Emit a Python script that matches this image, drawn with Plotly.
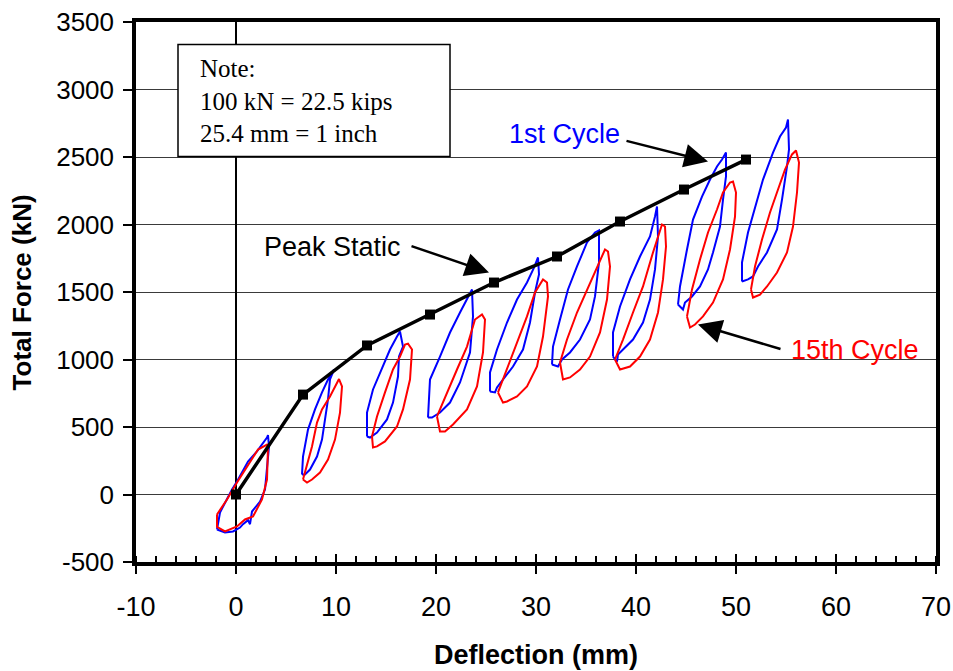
import plotly.graph_objects as go

# Peak static load-deflection envelope
static_defl = [0, 6.7, 13.1, 19.4, 25.8, 32.1, 38.4, 44.8, 51.0]
static_force = [0, 740, 1104, 1333, 1570, 1763, 2022, 2259, 2481]

# First-cycle hysteresis loops (deflection mm, force kN), one list per loop
cycle1_defl = [
    [-1.9, -1.6, -0.4, 0.1, 1.2, 2.1, 3.1, 3.2, 3.3, 2.9, 2.4, 1.6, 1.4, 1.2, 0.7, 0.4, -0.3, -1.1, -1.9],
    [6.6, 6.7, 7.2, 7.9, 8.6, 9.2, 9.8, 9.4, 9.2, 8.9, 8.6, 8.1, 7.4, 6.9, 6.6],
    [13.1, 13.1, 13.7, 14.7, 15.4, 16.1, 16.4, 16.7, 16.3, 16.2, 15.7, 15.1, 14.1, 13.4, 13.1],
    [19.2, 19.4, 20.4, 21.4, 22.4, 23.1, 23.6, 23.7, 23.4, 22.4, 21.4, 20.4, 19.6, 19.2],
    [25.4, 25.4, 26.1, 27.1, 28.1, 29.1, 29.8, 30.2, 30.3, 29.9, 29.4, 28.7, 27.7, 26.7, 26.1, 25.9, 25.4],
    [31.6, 31.7, 32.4, 33.2, 34.1, 35.1, 35.9, 36.3, 36.3, 35.9, 35.4, 34.4, 33.4, 32.6, 32.2, 31.6],
    [37.7, 37.7, 38.4, 39.4, 40.4, 41.4, 41.9, 42.1, 42.2, 41.9, 41.4, 40.7, 39.7, 38.7, 38.2, 38.1, 37.7],
    [44.2, 44.4, 45.1, 45.7, 46.6, 47.4, 48.1, 48.6, 49.0, 49.0, 48.7, 48.4, 47.7, 47.2, 46.4, 45.6, 44.9, 44.7, 44.2],
    [50.6, 50.6, 51.2, 51.9, 52.7, 53.7, 54.4, 55.0, 55.2, 55.3, 55.1, 54.6, 54.1, 53.1, 52.2, 51.7, 51.2, 50.6],
]
cycle1_force = [
    [-259, -133, 37, 96, 244, 319, 422, 440, 356, 37, -52, -126, -220, -190, -220, -245, -274, -281, -259],
    [148, 281, 481, 630, 756, 852, 925, 852, 704, 556, 407, 281, 185, 148, 148],
    [430, 607, 778, 948, 1074, 1170, 1207, 1096, 1022, 874, 681, 556, 459, 422, 430],
    [570, 852, 1022, 1200, 1348, 1444, 1519, 1319, 1052, 830, 681, 607, 570, 570],
    [763, 904, 1074, 1274, 1444, 1570, 1680, 1756, 1630, 1496, 1274, 1074, 948, 852, 793, 756, 763],
    [963, 1096, 1296, 1519, 1689, 1867, 1941, 1956, 1719, 1467, 1296, 1148, 1052, 1000, 948, 963],
    [1022, 1200, 1393, 1593, 1763, 1911, 2059, 2133, 1911, 1667, 1444, 1274, 1148, 1074, 1037, 985, 1022],
    [1407, 1541, 1815, 2037, 2207, 2333, 2430, 2481, 2533, 2356, 2185, 1985, 1793, 1667, 1541, 1467, 1422, 1370, 1407],
    [1578, 1719, 1941, 2133, 2333, 2533, 2652, 2718, 2778, 2556, 2430, 2185, 1963, 1793, 1689, 1615, 1593, 1578],
]

# Fifteenth-cycle hysteresis loops
cycle15_defl = [
    [-1.9, -0.9, 0.1, 1.1, 2.2, 3.1, 3.2, 3.1, 2.6, 1.7, 0.9, 0.1, -1.1, -1.9, -1.9],
    [6.7, 7.6, 8.1, 8.6, 9.4, 10.1, 10.3, 10.6, 10.4, 9.9, 9.2, 8.4, 7.6, 7.1, 6.7],
    [13.6, 14.1, 14.9, 15.7, 16.4, 16.9, 17.2, 17.6, 17.4, 16.7, 16.1, 14.9, 14.1, 13.7, 13.6],
    [20.1, 21.1, 22.1, 23.1, 23.9, 24.6, 24.9, 24.7, 24.1, 23.1, 21.7, 20.9, 20.4, 20.1],
    [26.2, 27.1, 28.1, 29.1, 29.9, 30.7, 31.1, 31.2, 30.7, 30.1, 29.1, 28.1, 27.1, 26.7, 26.2],
    [32.4, 33.1, 34.1, 35.1, 36.1, 36.9, 37.2, 37.4, 37.1, 36.4, 35.4, 34.4, 33.4, 32.7, 32.4],
    [37.9, 38.7, 39.7, 40.7, 41.7, 42.6, 42.9, 43.0, 42.7, 42.2, 41.4, 40.4, 39.4, 38.4, 37.9],
    [45.1, 45.6, 46.4, 47.2, 48.1, 48.7, 49.4, 49.7, 50.0, 49.9, 49.4, 48.7, 47.7, 46.7, 45.9, 45.4, 45.1],
    [51.5, 51.9, 52.6, 53.4, 54.2, 54.9, 55.6, 56.0, 56.3, 56.1, 55.7, 55.1, 54.1, 53.1, 52.4, 51.7, 51.5],
]
cycle15_force = [
    [-148, -37, 89, 207, 333, 370, 356, 111, -37, -163, -185, -237, -274, -240, -148],
    [111, 356, 533, 630, 726, 830, 855, 800, 607, 407, 259, 163, 111, 89, 111],
    [430, 578, 756, 926, 1022, 1111, 1118, 1074, 852, 630, 504, 393, 356, 348, 430],
    [578, 756, 926, 1096, 1296, 1333, 1296, 1052, 800, 630, 519, 467, 467, 578],
    [756, 926, 1126, 1319, 1496, 1593, 1570, 1467, 1170, 948, 800, 726, 689, 681, 756],
    [978, 1148, 1348, 1519, 1689, 1815, 1800, 1689, 1444, 1200, 1022, 926, 867, 852, 978],
    [1000, 1148, 1348, 1541, 1793, 2000, 1985, 1837, 1593, 1348, 1148, 1022, 948, 926, 1000],
    [1319, 1519, 1741, 1941, 2111, 2237, 2311, 2319, 2237, 2059, 1815, 1593, 1422, 1319, 1259, 1237, 1319],
    [1519, 1689, 1889, 2089, 2259, 2407, 2519, 2548, 2459, 2237, 1985, 1793, 1644, 1541, 1481, 1459, 1519],
]

# Axis tick values and their printed labels (plain hyphen for negatives)
x_tick_vals = [-10, 0, 10, 20, 30, 40, 50, 60, 70]
x_tick_text = ["-10", "0", "10", "20", "30", "40", "50", "60", "70"]
y_tick_vals = [-500, 0, 500, 1000, 1500, 2000, 2500, 3000, 3500]
y_tick_text = ["-500", "0", "500", "1000", "1500", "2000", "2500", "3000", "3500"]

note_lines = ["Note:", "100 kN = 22.5 kips", "25.4 mm = 1 inch"]


def joined(loops):
    """Concatenate loops into one trace, separated by gaps."""
    out = []
    for loop in loops:
        out.extend(loop)
        out.append(None)
    return out


SANS = "Liberation Sans"
SERIF = "Liberation Serif"

fig = go.Figure()

fig.add_trace(go.Scatter(
    x=joined(cycle1_defl), y=joined(cycle1_force), mode="lines",
    line=dict(color="#0000FF", width=2), connectgaps=False, name="1st Cycle",
))
fig.add_trace(go.Scatter(
    x=joined(cycle15_defl), y=joined(cycle15_force), mode="lines",
    line=dict(color="#FF0000", width=2), connectgaps=False, name="15th Cycle",
))
fig.add_trace(go.Scatter(
    x=static_defl, y=static_force, mode="lines+markers",
    line=dict(color="black", width=3.5),
    marker=dict(symbol="square", size=10, color="black"),
    name="Peak Static",
))
# invisible trace so the overlay axis carrying the inner major ticks is drawn
fig.add_trace(go.Scatter(x=[static_defl[0]], y=[static_force[0]], xaxis="x2",
                         mode="markers", marker=dict(opacity=0),
                         hoverinfo="skip", showlegend=False))

# Note box
fig.add_shape(type="rect", xref="x", yref="y", x0=-5.8, x1=21.4, y0=2504, y1=3333,
              line=dict(color="black", width=1.5), fillcolor="white", layer="above")
fig.add_annotation(x=-3.8, y=2918, xref="x", yref="y", xanchor="left", yanchor="middle",
                   text="<br>".join(note_lines), showarrow=False, align="left",
                   font=dict(family=SERIF, size=25, color="black"))

# Labels
fig.add_annotation(x=32.8, y=2667, text="1st Cycle", showarrow=False,
                   font=dict(family=SANS, size=27, color="#0000FF"))
fig.add_annotation(x=9.6, y=1837, text="Peak Static", showarrow=False,
                   font=dict(family=SANS, size=27, color="black"))
fig.add_annotation(x=61.9, y=1074, text="15th Cycle", showarrow=False,
                   font=dict(family=SANS, size=27, color="#FF0000"))

# Pointer arrows (head at x,y; tail at ax,ay)
arrows = [
    dict(x=47.2, y=2467, ax=38.9, ay=2622),
    dict(x=25.3, y=1644, ax=17.4, ay=1844),
    dict(x=46.2, y=1259, ax=54.6, ay=1074),
]
for a in arrows:
    fig.add_annotation(x=a["x"], y=a["y"], ax=a["ax"], ay=a["ay"], xref="x", yref="y",
                       axref="x", ayref="y", text="", showarrow=True, arrowhead=2,
                       arrowsize=1.9, arrowwidth=2.5, arrowcolor="black", standoff=0)

# Axis titles placed as free text
fig.add_annotation(x=0.5, y=-0.172, xref="paper", yref="paper", yanchor="middle",
                   text="<b>Deflection (mm)</b>", showarrow=False,
                   font=dict(family=SANS, size=27, color="black"))
fig.add_annotation(x=-0.142, y=0.5, xref="paper", yref="paper", xanchor="center",
                   text="<b>Total Force (kN)</b>", showarrow=False, textangle=-90,
                   font=dict(family=SANS, size=26, color="black"))

fig.update_layout(
    width=953, height=671,
    margin=dict(l=136, r=17, t=22, b=109),
    paper_bgcolor="white", plot_bgcolor="white",
    showlegend=False,
    font=dict(family=SANS, color="black"),
    xaxis=dict(
        range=[-10, 70], tickvals=x_tick_vals, ticktext=x_tick_text,
        ticks="outside", ticklen=8, tickwidth=2, tickcolor="black",
        minor=dict(ticks="inside", dtick=2, tick0=0, ticklen=6, tickwidth=1.5,
                   tickcolor="black", showgrid=False),
        showline=True, linewidth=3.5, linecolor="black", mirror=True,
        showgrid=False, zeroline=True, zerolinecolor="black", zerolinewidth=2,
        tickfont=dict(family=SANS, size=27), ticklabelstandoff=10,
        automargin=False,
    ),
    xaxis2=dict(
        overlaying="x", matches="x", anchor="y", side="bottom",
        range=[-10, 70], tickvals=x_tick_vals,
        ticks="inside", ticklen=8, tickwidth=2, tickcolor="black",
        showticklabels=False, showline=False, showgrid=False, zeroline=False,
        automargin=False,
    ),
    yaxis=dict(
        range=[-500, 3500], tickvals=y_tick_vals, ticktext=y_tick_text,
        ticks="outside", ticklen=9, tickwidth=2, tickcolor="black",
        showline=True, linewidth=3.5, linecolor="black", mirror=True,
        showgrid=True, gridcolor="#3a3a3a", gridwidth=1.3, zeroline=False,
        tickfont=dict(family=SANS, size=26), ticklabelstandoff=4,
        automargin=False,
    ),
)

fig.write_html("out.html")
